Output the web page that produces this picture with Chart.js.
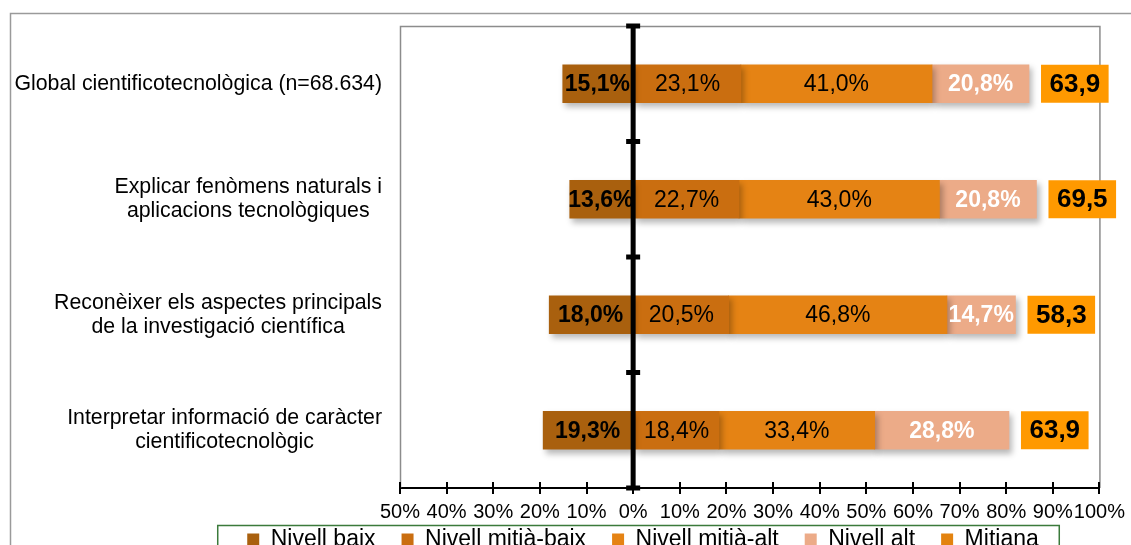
<!DOCTYPE html>
<html>
<head>
<meta charset="utf-8">
<script src="https://cdn.jsdelivr.net/npm/chart.js@4.4.1/dist/chart.umd.min.js"></script>
<style>
  html, body { margin: 0; padding: 0; background: #fff; overflow: hidden; }
  canvas { display: block; }
</style>
</head>
<body>
<canvas id="chart" width="1131" height="545"></canvas>
<script>
// ---- data ----
const categories = [
  ['Global cientificotecnològica (n=68.634)'],
  ['Explicar fenòmens naturals i', 'aplicacions tecnològiques'],
  ['Reconèixer els aspectes principals', 'de la investigació científica'],
  ['Interpretar informació de caràcter', 'cientificotecnològic']
];
const nivellBaix      = [15.1, 13.6, 18.0, 19.3];
const nivellMitjaBaix = [23.1, 22.7, 20.5, 18.4];
const nivellMitjaAlt  = [41.0, 43.0, 46.8, 33.4];
const nivellAlt       = [20.8, 20.8, 14.7, 28.8];
const mitjana         = [63.9, 69.5, 58.3, 63.9];

const FONT = "'Liberation Sans', Arial, sans-serif";
const fmt = v => Math.abs(v).toFixed(1).replace('.', ',');

// label style per dataset
const labelStyles = [
  { bold: true,  color: '#000' },
  { bold: false, color: '#000' },
  { bold: false, color: '#000' },
  { bold: true,  color: '#fff' }
];

const decor = {
  id: 'decor',
  beforeDatasetsDraw(chart) {
    const { ctx, chartArea: a } = chart;
    ctx.save();
    // outer frame
    ctx.strokeStyle = '#9a9a9a';
    ctx.lineWidth = 1.5;
    ctx.strokeRect(10.5, 13.5, 1400, 800);
    // plot frame (left, top, right)
    ctx.strokeStyle = '#8c8c8c';
    ctx.beginPath();
    ctx.moveTo(a.left + 0.5, a.bottom);
    ctx.lineTo(a.left + 0.5, a.top + 0.5);
    ctx.lineTo(a.right + 0.5, a.top + 0.5);
    ctx.lineTo(a.right + 0.5, a.bottom);
    ctx.stroke();
    // upper half of the cross tick marks on x axis
    const xs = chart.scales.x;
    ctx.strokeStyle = '#000';
    ctx.lineWidth = 2;
    xs.ticks.forEach((t, i) => {
      const px = Math.round(xs.getPixelForTick(i));
      ctx.beginPath();
      ctx.moveTo(px, a.bottom - 6);
      ctx.lineTo(px, a.bottom);
      ctx.stroke();
    });
    ctx.restore();
    // drop shadow for the bars
    ctx.save();
    ctx.shadowColor = 'rgba(0,0,0,0.28)';
    ctx.shadowBlur = 6;
    ctx.shadowOffsetX = 3;
    ctx.shadowOffsetY = 4;
  },
  afterDatasetsDraw(chart) {
    const { ctx, chartArea: a } = chart;
    ctx.restore();
    const xs = chart.scales.x, ys = chart.scales.y;
    ctx.save();
    ctx.textAlign = 'center';
    ctx.textBaseline = 'middle';

    // value labels inside segments
    for (let d = 0; d < 4; d++) {
      const meta = chart.getDatasetMeta(d);
      const st = labelStyles[d];
      ctx.font = (st.bold ? 'bold ' : '') + '23px ' + FONT;
      ctx.fillStyle = st.color;
      meta.data.forEach((el, i) => {
        const v = chart.data.datasets[d].data[i];
        ctx.fillText(fmt(v) + '%', (el.x + el.base) / 2, el.y + 1);
      });
    }

    // mitjana boxes after the end of each bar
    const lastMeta = chart.getDatasetMeta(3);
    ctx.font = 'bold 26px ' + FONT;
    lastMeta.data.forEach((el, i) => {
      const txt = fmt(mitjana[i]);
      const w = ctx.measureText(txt).width + 17;
      const h = el.height;
      const left = el.x + 12;
      const top = el.y - h / 2;
      ctx.fillStyle = '#FF9900';
      ctx.fillRect(left, top, w, h);
      ctx.fillStyle = '#000';
      ctx.fillText(txt, left + w / 2, el.y + 1);
    });

    // thick zero line with cross ticks at category boundaries
    const x0 = xs.getPixelForValue(0);
    ctx.strokeStyle = '#000';
    ctx.lineWidth = 5;
    ctx.beginPath();
    ctx.moveTo(x0, a.top);
    ctx.lineTo(x0, a.bottom);
    ctx.stroke();
    const band = (a.bottom - a.top) / categories.length;
    for (let k = 0; k <= categories.length; k++) {
      const yy = a.top + band * k;
      ctx.beginPath();
      ctx.moveTo(x0 - 7, yy);
      ctx.lineTo(x0 + 7, yy);
      ctx.stroke();
    }

    // category labels: block right-aligned, lines centred
    ctx.font = '21.3px ' + FONT;
    ctx.fillStyle = '#000';
    const rightX = a.left - 18;
    categories.forEach((lines, i) => {
      const cy = ys.getPixelForValue(i);
      const maxW = Math.max(...lines.map(l => ctx.measureText(l).width));
      const cx = rightX - maxW / 2;
      const lh = 24;
      lines.forEach((l, j) => {
        ctx.fillText(l, cx, cy + (j - (lines.length - 1) / 2) * lh);
      });
    });
    ctx.restore();
  },
  afterDraw(chart) {
    const { ctx } = chart;
    const hb = chart.legend.legendHitBoxes;
    if (!hb || !hb.length) return;
    const left = Math.min(...hb.map(h => h.left)) - 30;
    const right = Math.max(...hb.map(h => h.left + h.width)) + 20;
    const top = hb[0].top - 3;
    ctx.save();
    ctx.strokeStyle = '#3b7a3b';
    ctx.lineWidth = 1.5;
    ctx.strokeRect(left + 0.5, top + 0.5, right - left, 80);
    ctx.restore();
  }
};

new Chart(document.getElementById('chart').getContext('2d'), {
  type: 'bar',
  data: {
    labels: categories,
    datasets: [
      { label: 'Nivell baix',       data: nivellBaix.map(v => -v), backgroundColor: '#A9600E' },
      { label: 'Nivell mitjà-baix', data: nivellMitjaBaix,         backgroundColor: '#CA6E10' },
      { label: 'Nivell mitjà-alt',  data: nivellMitjaAlt,          backgroundColor: '#E58314' },
      { label: 'Nivell alt',        data: nivellAlt,               backgroundColor: '#ECAB88' }
    ]
  },
  options: {
    indexAxis: 'y',
    responsive: false,
    animation: false,
    datasets: { bar: { barThickness: 38, borderWidth: 0 } },
    layout: { padding: { left: 185, right: 30, top: 26, bottom: -16 } },
    plugins: {
      tooltip: { enabled: false },
      legend: {
        position: 'bottom',
        labels: {
          boxWidth: 12,
          boxHeight: 12,
          padding: 26,
          color: '#000',
          font: { family: FONT, size: 23 },
          generateLabels: chart => {
            const items = Chart.defaults.plugins.legend.labels.generateLabels(chart);
            items.forEach(it => { it.lineWidth = 0; });
            items.push({ text: 'Mitiana', fillStyle: '#E3830F', strokeStyle: '#E3830F', lineWidth: 0, hidden: false, datasetIndex: 4 });
            return items;
          }
        }
      }
    },
    scales: {
      x: {
        stacked: true,
        min: -50,
        max: 100,
        ticks: {
          stepSize: 10,
          autoSkip: false,
          maxRotation: 0,
          color: '#000',
          padding: 6,
          font: { family: FONT, size: 20 },
          callback: v => Math.abs(v) + '%'
        },
        grid: { drawOnChartArea: false, drawTicks: true, tickLength: 6, color: '#000', lineWidth: 2 },
        border: { color: '#000', width: 2 },
        afterFit: s => {
          s.height = 14;
          // tick labels overlap the legend band; don't clip them to the short axis box
          s._computeLabelArea = () => undefined;
        }
      },
      y: {
        stacked: true,
        grid: { display: false },
        border: { display: false },
        ticks: { display: false },
        afterFit: s => { s.width = 215; }
      }
    }
  },
  plugins: [decor]
});
</script>
</body>
</html>
